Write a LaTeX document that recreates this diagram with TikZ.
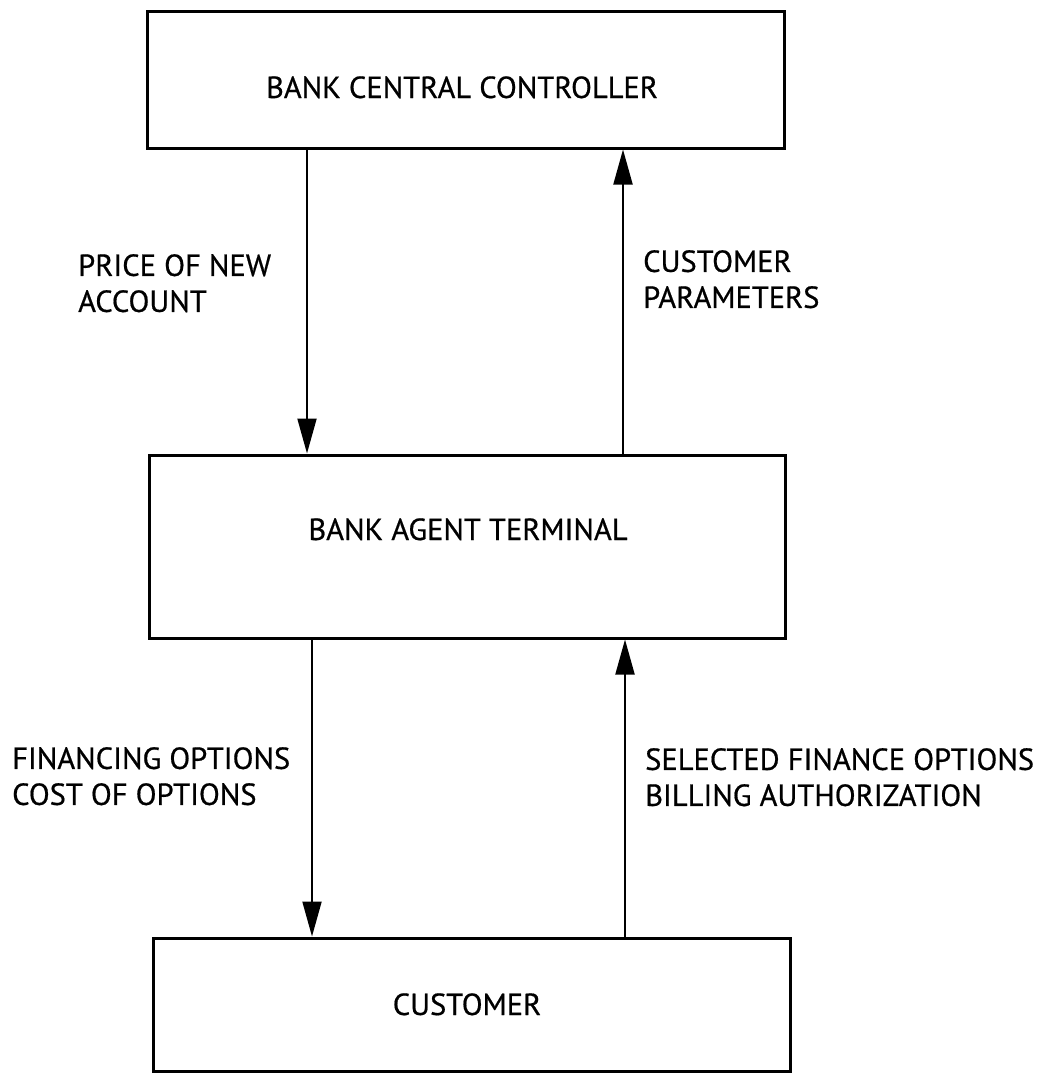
\documentclass[tikz,border=0pt]{standalone}
\usepackage{fontspec}
\setmainfont{PT Sans}
\newfontfamily\lblfont[FakeBold=0.6]{PT Sans}
\usetikzlibrary{arrows.meta}
\tikzset{
  box/.style={draw=black, line width=3pt, inner sep=0pt},
  boxtext/.style={anchor=base, inner sep=0pt, font=\lblfont\fontsize{30.5}{36}\selectfont},
  lbl/.style={anchor=north west, inner sep=0pt, align=left, font=\lblfont\fontsize{30.5}{36}\selectfont},
  arr/.style={draw=black, line width=2pt, -{Triangle[length=35pt,width=19pt]}}
}
\begin{document}
\begin{tikzpicture}[x=1pt,y=-1pt]
\useasboundingbox[fill=white] (0,0) rectangle (1047,1073);
% boxes
\node[box, minimum width=637pt, minimum height=136pt] (bcc) at (465.5,80) {};
\node[box, minimum width=636pt, minimum height=183pt] (bat) at (467,546.5) {};
\node[box, minimum width=637pt, minimum height=133pt] (cus) at (471.5,1004.5) {};
% box texts
\node[boxtext] (tbcc) at (462,98) {BANK CENTRAL CONTROLLER};
\node[boxtext] (tbat) at (468,540) {BANK AGENT TERMINAL};
\node[boxtext] (tcus) at (467,1015) {CUSTOMER};
% connector columns
\coordinate (c1) at (307,0);
\coordinate (c2) at (623,0);
\coordinate (c3) at (312,0);
\coordinate (c4) at (625,0);
% connectors
\draw[arr] (bcc.south -| c1) -- (bat.north -| c1);
\draw[arr] (bat.north -| c2) -- (bcc.south -| c2);
\draw[arr] (bat.south -| c3) -- (cus.north -| c3);
\draw[arr] (cus.north -| c4) -- (bat.south -| c4);
% labels
\node[lbl] (l1) at (78,254) {PRICE OF NEW\\ACCOUNT};
\node[lbl] (l2) at (643,250) {CUSTOMER\\PARAMETERS};
\node[lbl] (l3) at (12,747) {FINANCING OPTIONS\\COST OF OPTIONS};
\node[lbl] (l4) at (645,748) {SELECTED FINANCE OPTIONS\\BILLING AUTHORIZATION};
\end{tikzpicture}
\end{document}
